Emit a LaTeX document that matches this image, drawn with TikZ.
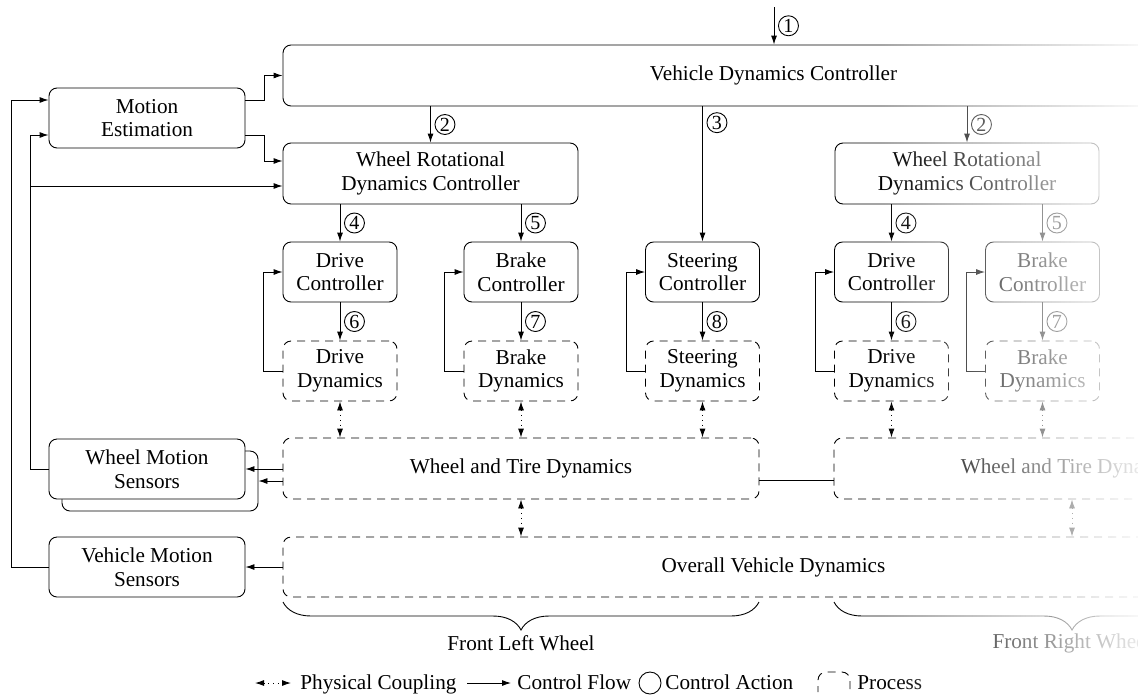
\documentclass[tikz,border=0pt]{standalone}
\usepackage{fontspec}
\setmainfont{Liberation Serif}
\usetikzlibrary{arrows.meta,fadings,decorations.pathreplacing,calc}
\tikzfading[name=fadeR, left color=transparent!100, middle color=transparent!45, right color=transparent!8]
\begin{document}
\begin{tikzpicture}[x=0.5pt,y=-0.5pt, font=\fontsize{10.6}{11.8}\selectfont,
 box/.style={draw, rounded corners=4pt, align=center, inner sep=0pt, line width=0.45pt},
 ctrl/.style={box},
 proc/.style={box, dash pattern=on 4pt off 3pt},
 small/.style={minimum width=57pt, minimum height=30pt},
 arr/.style={line width=0.45pt, -{Latex[length=4.5pt,width=3pt]}},
 line/.style={line width=0.45pt},
 phys/.style={line width=0.45pt, {Latex[length=4.5pt,width=3pt]}-{Latex[length=4.5pt,width=3pt]}, dotted},
 cnum/.style={circle, draw, line width=0.45pt, inner sep=0pt, minimum size=10pt, font=\fontsize{10}{10}\selectfont, right=2pt},
 legtext/.style={anchor=base west, inner sep=0pt}
]
\useasboundingbox (0,0) rectangle (1138,696);
\clip (0,0) rectangle (1138,696);

% controllers
\node[ctrl, minimum width=490.5pt, minimum height=30.5pt] (VDC) at (773.5,75.5) {Vehicle Dynamics Controller};
\node[ctrl, minimum width=98pt, minimum height=30pt] (ME) at (147,118) {Motion\\Estimation};
\node[ctrl, minimum width=147.5pt, minimum height=30.5pt] (WRDC) at (430.5,173.5) {Wheel Rotational\\Dynamics Controller};
\node[ctrl, minimum width=132pt, minimum height=30.5pt] (WRDCr) at (967,173.5) {Wheel Rotational\\Dynamics Controller};
\node[ctrl, small] (DC) at (340,272) {Drive\\Controller};
\node[ctrl, small] (BC) at (521,272) {Brake\\Controller};
\node[ctrl, small] (SC) at (702.5,272) {Steering\\Controller};
\node[ctrl, small] (DCr) at (891.5,272) {Drive\\Controller};
\node[ctrl, small] (BCr) at (1042.5,272) {Brake\\Controller};

% processes
\node[proc, small] (DD) at (340,371) {Drive\\Dynamics};
\node[proc, small] (BD) at (521,371) {Brake\\Dynamics};
\node[proc, small] (SD) at (702.5,371) {Steering\\Dynamics};
\node[proc, small] (DDr) at (891.5,371) {Drive\\Dynamics};
\node[proc, small] (BDr) at (1042.5,371) {Brake\\Dynamics};
\node[proc, minimum width=238pt, minimum height=30.5pt] (WTD) at (521,468.5) {Wheel and Tire Dynamics};
\node[proc, minimum width=238pt, minimum height=30.5pt] (WTDr) at (1072,468.5) {Wheel and Tire Dynamics};
\node[proc, minimum width=490.5pt, minimum height=30pt] (OVD) at (773.5,567) {Overall Vehicle Dynamics};

% sensors
\node[ctrl, fill=white, minimum width=98pt, minimum height=30pt] (WMSb) at (160,481) {};
\node[ctrl, fill=white, minimum width=98pt, minimum height=30pt] (WMS) at (147,469) {Wheel Motion\\Sensors};
\node[ctrl, minimum width=98pt, minimum height=30pt] (VMS) at (147,567) {Vehicle Motion\\Sensors};

% control actions
\coordinate (top1) at (774,7);
\draw[arr] (top1) -- (top1 |- VDC.north) node[midway, cnum] {1};
\draw[arr] (VDC.south -| WRDC.north) -- (WRDC.north) node[midway, cnum] {2};
\draw[arr] (VDC.south -| SC.north) -- (SC.north) node[pos=0.12, cnum] {3};
\draw[arr] (VDC.south -| WRDCr.north) -- (WRDCr.north) node[midway, cnum] {2};
\draw[arr] (WRDC.south -| DC.north) -- (DC.north) node[midway, cnum] {4};
\draw[arr] (WRDC.south -| BC.north) -- (BC.north) node[midway, cnum] {5};
\draw[arr] (WRDCr.south -| DCr.north) -- (DCr.north) node[midway, cnum] {4};
\draw[arr] (WRDCr.south -| BCr.north) -- (BCr.north) node[midway, cnum] {5};
\draw[arr] (DC.south) -- (DD.north) node[midway, cnum] {6};
\draw[arr] (BC.south) -- (BD.north) node[midway, cnum] {7};
\draw[arr] (SC.south) -- (SD.north) node[midway, cnum] {8};
\draw[arr] (DCr.south) -- (DDr.north) node[midway, cnum] {6};
\draw[arr] (BCr.south) -- (BDr.north) node[midway, cnum] {7};

% local feedback
\foreach \c/\p in {DC/DD, BC/BD, SC/SD, DCr/DDr, BCr/BDr}{
  \draw[arr] (\p.west) -- ++(-19,0) |- (\c.west);
}

% motion estimation
\draw[arr] (ME.east |- 0,100) -- (264,100) |- (VDC.west);
\draw[arr] (ME.east |- 0,135) -- (264,135) |- (WRDC.west |- 0,161);
\draw[arr] (VMS.west) -- (11,567) |- (ME.west |- 0,100);
\draw[arr] (WMS.west) -- (30,469) |- (ME.west |- 0,135);
\draw[arr] (30,186) -- (WRDC.west |- 0,186);

% sensors
\draw[arr] (WTD.west |- WMS.east) -- (WMS.east);
\draw[arr] (WTD.west |- WMSb.east) -- (WMSb.east);
\draw[arr] (OVD.west) -- (VMS.east);
\draw[line] (WTD.east |- 0,480) -- (WTDr.west |- 0,480);

% physical coupling
\foreach \p in {DD, BD, SD}{
  \draw[phys] (\p.south) -- (WTD.north -| \p.south);
}
\foreach \p in {DDr, BDr}{
  \draw[phys] (\p.south) -- (WTDr.north -| \p.south);
}
\draw[phys] (WTD.south) -- (OVD.north -| WTD.south);
\draw[phys] (WTDr.south) -- (OVD.north -| WTDr.south);

% braces
\coordinate (bl1) at (283,602); \coordinate (bl2) at (759,602);
\coordinate (br1) at (834,602); \coordinate (br2) at (1310,602);
\draw[line, decorate, decoration={brace, mirror, amplitude=14pt}] (bl1) -- (bl2);
\draw[line, decorate, decoration={brace, mirror, amplitude=14pt}] (br1) -- (br2);
\node (flw) at (521,643) {Front Left Wheel};
\node (frw) at (1072,643) {Front Right Wheel};

% legend
\coordinate (pc1) at (255,683); \coordinate (pc2) at (291,683);
\draw[phys] (pc1) -- (pc2);
\node[legtext] (lpc) at (300,689) {Physical Coupling};
\coordinate (cf1) at (467,683); \coordinate (cf2) at (511,683);
\draw[arr] (cf1) -- (cf2);
\node[legtext] (lcf) at (517,689) {Control Flow};
\node[circle, draw, line width=0.45pt, minimum size=11pt, inner sep=0pt] (lca) at (650,683) {};
\node[legtext] (lcat) at (665,689) {Control Action};
\draw[line, dash pattern=on 4pt off 3pt, dash phase=1pt, rounded corners=4pt] (818,692) -- (818,672) -- (850,672) -- (850,692);
\node[legtext] (lpr) at (857,689) {Process};

% fade to the right
\fill[white, path fading=fadeR] (880,-10) rectangle (1140,706);
\end{tikzpicture}
\end{document}
